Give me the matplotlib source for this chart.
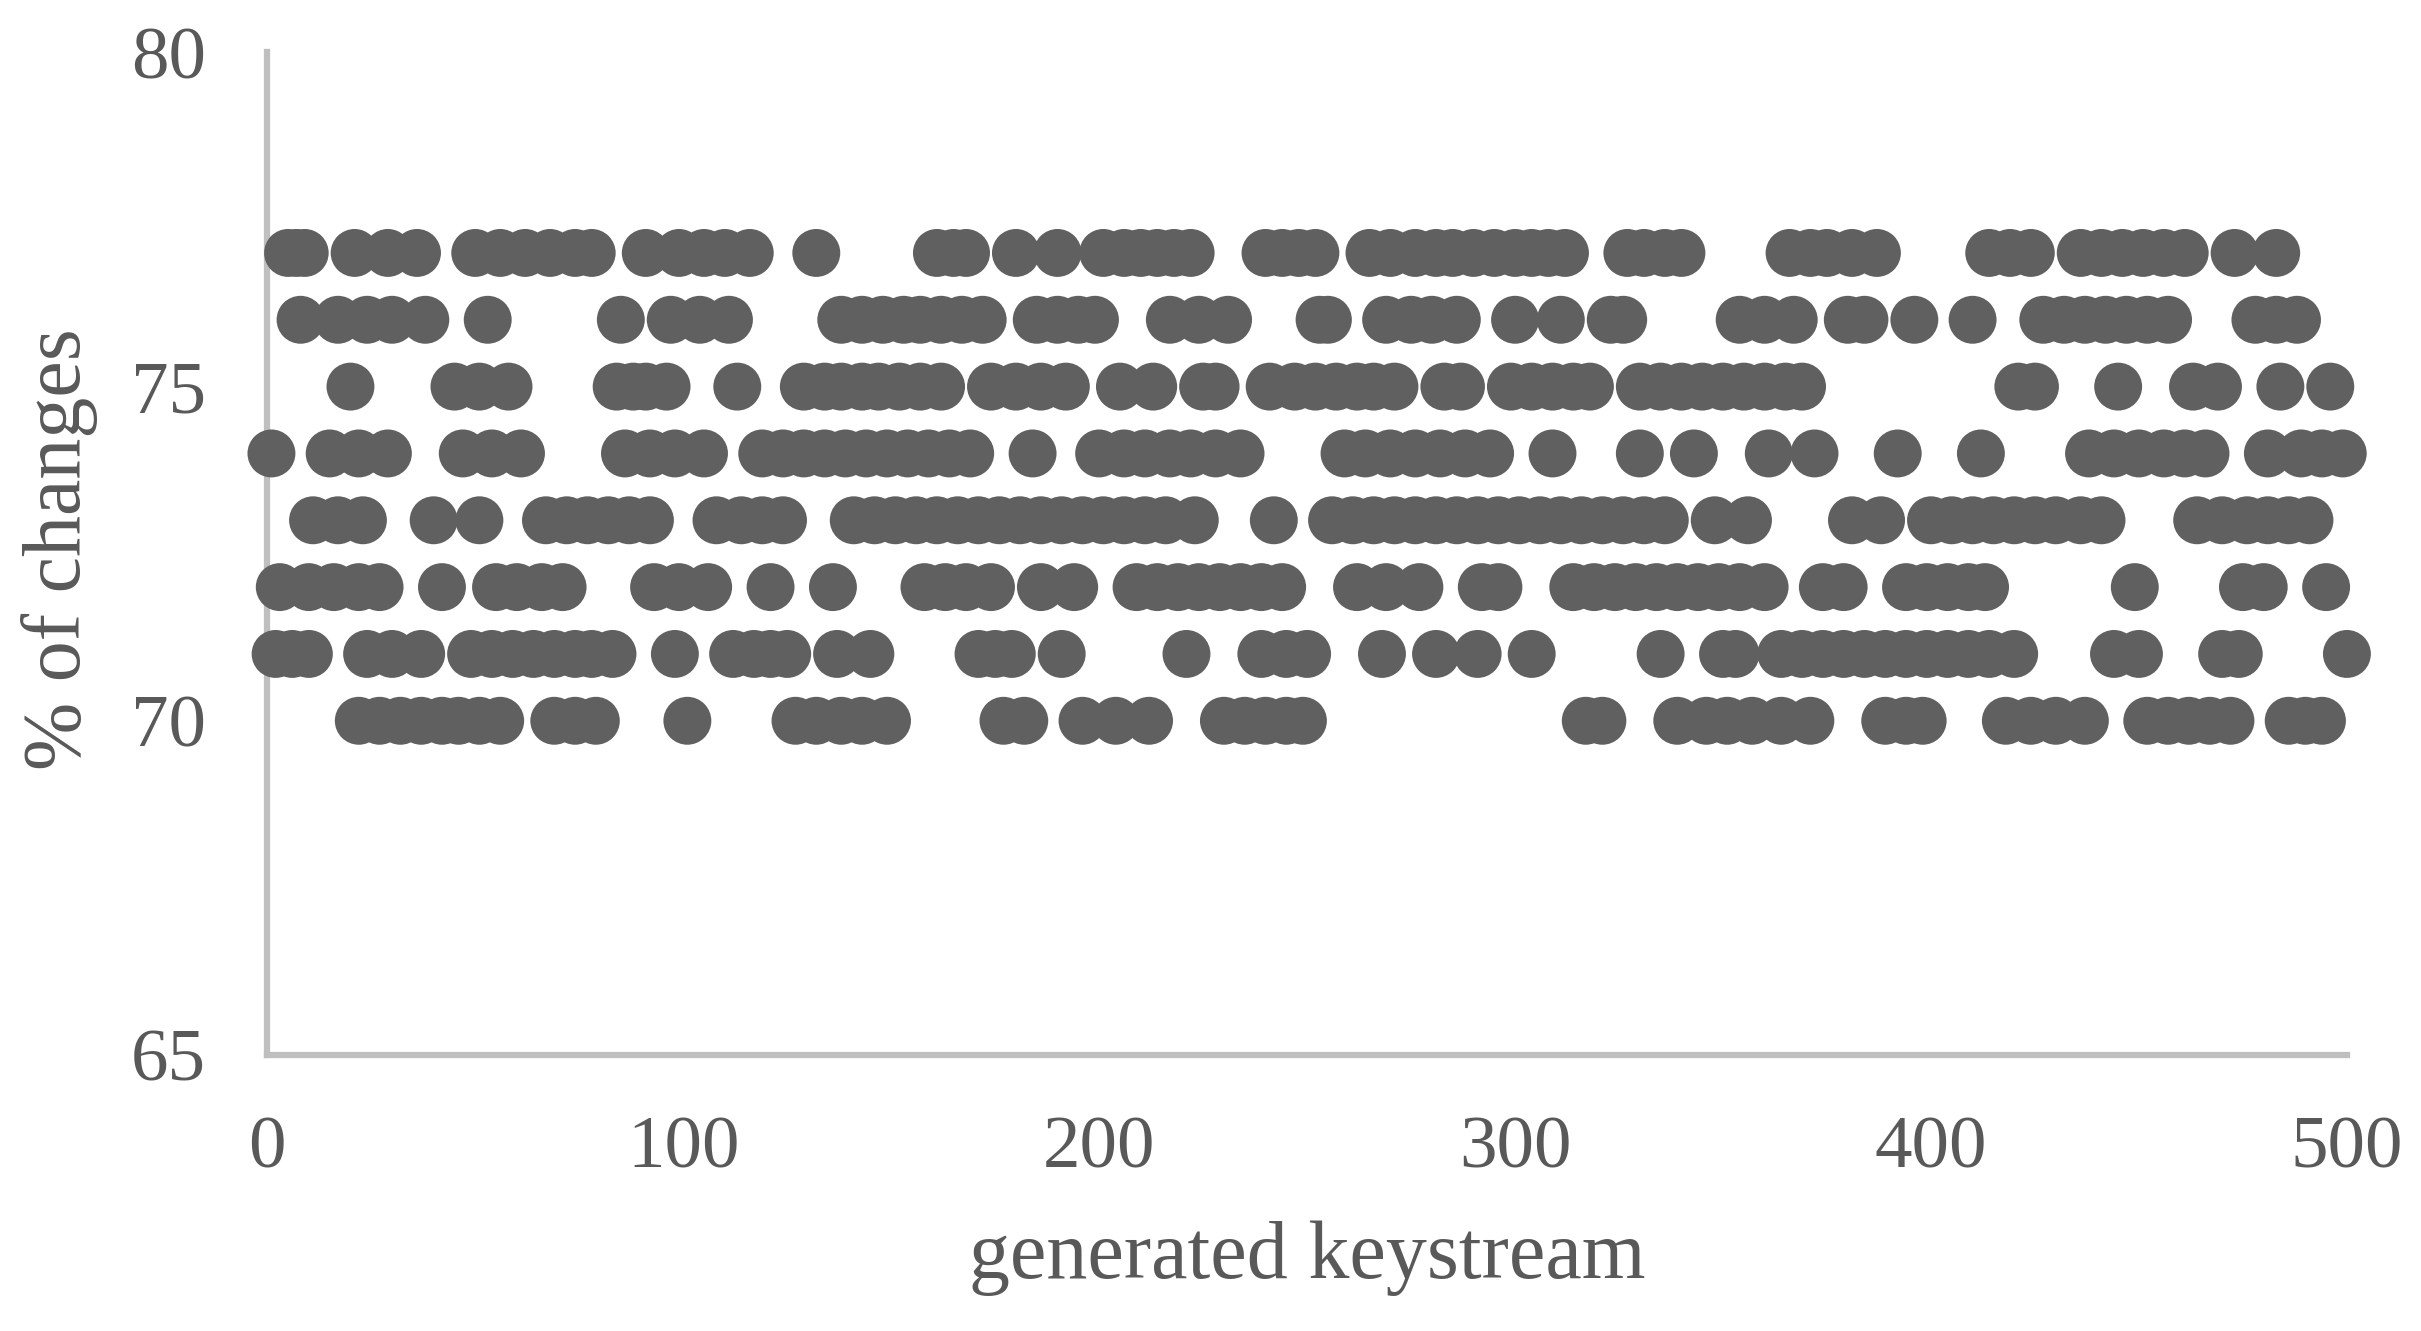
import numpy as np
import matplotlib
matplotlib.use("Agg")
import matplotlib.pyplot as plt

# keystream index of each visible point, grouped by % of changes
row70 = [22, 27, 32, 37, 42, 46, 51, 56, 69, 74, 79, 101, 127, 132, 138, 143, 149, 177, 182,
         196, 204, 212, 230, 235, 240, 245, 249, 317, 321, 339, 346, 351, 357, 364, 371, 389,
         394, 398, 418, 424, 430, 437, 452, 457, 462, 467, 472, 486, 490, 494]
row71 = [2, 6, 10, 24, 30, 37, 49, 54, 59, 64, 69, 74, 78, 83, 98, 112, 117, 121, 125, 137, 145,
         171, 175, 179, 191, 221, 239, 245, 250, 268, 281, 291, 304, 335, 350, 353, 364, 369,
         374, 379, 384, 389, 394, 399, 404, 409, 414, 420, 444, 450, 470, 474, 500]
row72 = [3, 10, 16, 22, 27, 42, 55, 60, 66, 71, 93, 99, 106, 121, 136, 158, 163, 168, 174, 186,
         194, 209, 214, 219, 224, 229, 234, 239, 244, 262, 269, 277, 292, 296, 314, 319, 324,
         329, 334, 339, 344, 349, 354, 360, 374, 379, 394, 399, 404, 409, 413, 449, 475, 480, 495]
row73 = [11, 17, 23, 40, 51, 67, 72, 77, 82, 87, 92, 108, 114, 119, 124, 141, 146, 151, 156, 161,
         166, 171, 176, 181, 186, 191, 196, 201, 206, 211, 216, 223, 242, 256, 261, 266, 271,
         276, 281, 286, 291, 296, 301, 306, 311, 316, 321, 326, 331, 336, 348, 356, 381, 388,
         400, 405, 410, 415, 420, 425, 430, 436, 441, 464, 470, 476, 481, 486, 491]
row74 = [1, 15, 22, 29, 47, 54, 61, 86, 92, 98, 105, 119, 124, 129, 134, 139, 144, 149, 154, 159,
         164, 169, 184, 200, 206, 211, 217, 222, 228, 234, 259, 264, 270, 276, 282, 288, 294,
         309, 330, 343, 361, 372, 392, 412, 438, 444, 450, 456, 461, 466, 481, 489, 494, 499]
row75 = [20, 45, 51, 58, 84, 88, 91, 96, 113, 129, 134, 138, 143, 147, 152, 157, 162, 174, 180,
         186, 192, 205, 213, 225, 228, 241, 247, 252, 257, 262, 266, 271, 283, 287, 299, 304,
         309, 314, 318, 330, 335, 340, 345, 350, 355, 360, 365, 369, 421, 425, 445, 463, 469,
         484, 496]
row76 = [8, 17, 24, 30, 38, 53, 85, 97, 104, 111, 138, 143, 148, 153, 157, 162, 167, 172, 185,
         190, 195, 199, 217, 224, 231, 253, 255, 269, 275, 280, 286, 300, 311, 323, 326, 354,
         360, 367, 380, 384, 396, 410, 427, 432, 437, 442, 447, 452, 457, 478, 483, 488]
row77 = [5, 7, 9, 21, 29, 36, 50, 56, 62, 68, 74, 78, 91, 99, 105, 110, 116, 132, 161, 165, 168,
         180, 190, 201, 206, 210, 214, 218, 222, 240, 244, 248, 252, 265, 270, 276, 281, 285,
         290, 295, 300, 304, 308, 312, 327, 331, 336, 340, 366, 371, 375, 381, 387, 414, 419,
         424, 436, 441, 446, 451, 456, 461, 473, 483]

rows = {70: row70, 71: row71, 72: row72, 73: row73, 74: row74, 75: row75, 76: row76, 77: row77}

x_ticks = [0, 100, 200, 300, 400, 500]
y_ticks = [65, 70, 75, 80]

plt.rcParams['font.family'] = ['Liberation Serif', 'DejaVu Serif']

grey = '#595959'
fig = plt.figure(figsize=(24.21, 13.31), dpi=100)
ax = fig.add_axes([0.1104, 0.2074, 0.859, 0.7532])

xs = []
ys = []
for val, idx in rows.items():
    xs += idx
    ys += [val] * len(idx)
ax.scatter(xs, ys, s=1190, color='#606060', edgecolors='none', zorder=3, clip_on=False)

ax.set_xlim(0, 500)
ax.set_ylim(65, 80)
ax.set_xticks(x_ticks)
ax.set_yticks(y_ticks)
ax.tick_params(length=0, labelsize=54, labelcolor=grey)
ax.tick_params(axis='y', pad=44)
ax.tick_params(axis='x', pad=44)

for side in ['top', 'right']:
    ax.spines[side].set_visible(False)
for side in ['left', 'bottom']:
    ax.spines[side].set_color('#BFBFBF')
    ax.spines[side].set_linewidth(4.5)

ax.set_xlabel('generated keystream', fontsize=59, color=grey)
ax.set_ylabel('% of changes', fontsize=59, color=grey)
ax.xaxis.set_label_coords(0.5, -0.203)
ax.xaxis.label.set_va('center')
ax.yaxis.set_label_coords(-0.100, 0.505)
ax.yaxis.label.set_va('center')

fig.savefig('out.png', dpi=100)
